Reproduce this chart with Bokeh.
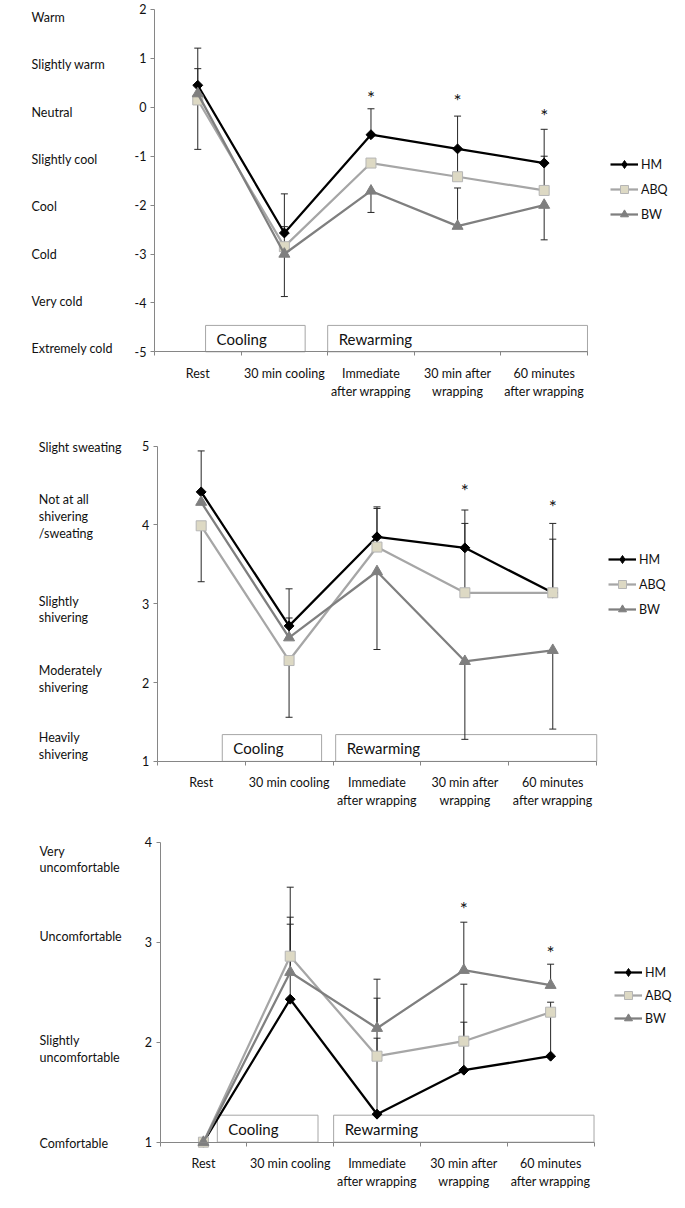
import numpy as np
from bokeh.plotting import figure
from bokeh.models import (ColumnDataSource, LinearAxis, FixedTicker, Range1d,
                          Legend, LegendItem)
from bokeh.layouts import column
from bokeh.embed import file_html
from bokeh.resources import INLINE
from bokeh.core.properties import value

# ---------------- data ----------------
categories = ["Rest", "30 min cooling", "Immediate\nafter wrapping",
              "30 min after\nwrapping", "60 minutes\nafter wrapping"]
series_names = ["HM", "ABQ", "BW"]
phases = ["Cooling", "Rewarming"]

# Panel 1: thermal sensation
p1_levels = [2, 1, 0, -1, -2, -3, -4, -5]
p1_words = ["Warm", "Slightly warm", "Neutral", "Slightly cool", "Cool",
            "Cold", "Very cold", "Extremely cold"]
p1_hm = [0.45, -2.57, -0.56, -0.85, -1.14]
p1_abq = [0.15, -2.85, -1.14, -1.42, -1.70]
p1_bw = [0.28, -3.00, -1.71, -2.43, -2.00]
p1_hm_err = [1.21, -1.77, -0.03, -0.18, -0.45]
p1_abq_err = [-0.86, -2.44, None, -0.87, -1.00]
p1_bw_err = [0.79, -3.87, -2.15, -1.65, -2.71]
p1_star = [None, None, 0.26, 0.21, -0.11]

# Panel 2: shivering / sweating
p2_levels = [5, 4, 3, 2, 1]
p2_words = ["Slight sweating", "Not at all\nshivering\n/sweating",
            "Slightly\nshivering", "Moderately\nshivering", "Heavily\nshivering"]
p2_hm = [4.42, 2.72, 3.85, 3.71, 3.14]
p2_abq = [3.99, 2.28, 3.72, 3.14, 3.14]
p2_bw = [4.29, 2.57, 3.41, 2.27, 2.41]
p2_hm_err = [4.94, 3.19, 4.23, 4.19, 4.02]
p2_abq_err = [3.28, 1.56, 4.21, 4.02, 3.82]
p2_bw_err = [None, 2.82, 2.42, 1.28, 1.41]
p2_star = [None, None, None, 4.48, 4.27]

# Panel 3: comfort
p3_levels = [4, 3, 2, 1]
p3_words = ["Very\nuncomfortable", "Uncomfortable",
            "Slightly\nuncomfortable", "Comfortable"]
p3_hm = [1.00, 2.43, 1.28, 1.72, 1.86]
p3_abq = [1.00, 2.86, 1.86, 2.01, 2.30]
p3_bw = [1.00, 2.70, 2.14, 2.72, 2.57]
p3_hm_err = [None, 3.18, 2.04, 2.20, 2.40]
p3_abq_err = [None, 3.55, 2.44, 2.58, None]
p3_bw_err = [None, 3.25, 2.63, 3.20, 2.78]
p3_star = [None, None, None, 3.37, 2.93]

# ---------------- styling ----------------
FONT = "Lato"
AXIS_C = "#868686"
ERR_C = "#262626"
STYLES = {
    "HM": dict(line="#000000", marker="square", angle=np.pi / 4, fill="#000000",
               mline="#000000", size=7, leg_marker="diamond", leg_size=11),
    "ABQ": dict(line="#A6A6A6", marker="square", angle=0, fill="#DDD9C4",
                mline="#B5B5B5", size=10, leg_marker="square", leg_size=10),
    "BW": dict(line="#7F7F7F", marker="triangle", angle=0, fill="#7F7F7F",
               mline="#7F7F7F", size=11, leg_marker="triangle", leg_size=11),
}


def make_panel(H, xr, yr, levels, words, word_x, word_dy, line_h,
               vals, errs, stars, boxes, box_top, leg_loc, leg_spacing):
    p = figure(width=685, height=H, x_range=Range1d(*xr), y_range=Range1d(*yr),
               x_axis_type=None, y_axis_type=None, toolbar_location=None,
               output_backend="svg", min_border=0, outline_line_color=None)
    ymin, ymax = min(levels), max(levels)
    xs = [i + 0.5 for i in range(len(categories))]

    # phase boxes
    bsrc = ColumnDataSource(dict(left=[b[0] for b in boxes], right=[b[1] for b in boxes],
                                 bottom=[ymin] * len(boxes), top=[box_top] * len(boxes),
                                 mid=[(ymin + box_top) / 2] * len(boxes), label=phases))
    p.quad(left="left", right="right", bottom="bottom", top="top", source=bsrc,
           fill_color="white", line_color="#A6A6A6", line_width=1)
    p.text(x="left", y="mid", text="label", source=bsrc, x_offset=11,
           text_baseline="middle", text_align="left", text_font=value(FONT),
           text_font_size="15px", text_color="#111111")

    # error bars
    for name, e in zip(series_names, errs):
        v = vals[series_names.index(name)]
        ex = [x for x, ee in zip(xs, e) if ee is not None]
        ey0 = [vv for vv, ee in zip(v, e) if ee is not None]
        ey1 = [ee for ee in e if ee is not None]
        p.segment(x0=ex, y0=ey0, x1=ex, y1=ey1, line_color=ERR_C, line_width=1)
        p.scatter(x=ex, y=ey1, marker="dash", size=7, line_color=ERR_C, line_width=1)

    # series
    items = []
    for name, v in zip(series_names, vals):
        st = STYLES[name]
        lr = p.line(xs, v, line_color=st["line"], line_width=2.25)
        p.scatter(xs, v, marker=st["marker"], size=st["size"], angle=st["angle"],
                  fill_color=st["fill"], line_color=st["mline"], line_width=1)
        # legend-only marker (kept outside the visible range)
        lm = p.scatter([xr[0] - 10], [yr[0] - 10], marker=st["leg_marker"],
                       size=st["leg_size"], fill_color=st["fill"],
                       line_color=st["mline"], line_width=1)
        items.append(LegendItem(label=name, renderers=[lr, lm]))

    # significance stars
    sx = [x for x, s in zip(xs, stars) if s is not None]
    sy = [s for s in stars if s is not None]
    p.text(x=sx, y=sy, text=["*"] * len(sx), text_align="center",
           text_baseline="middle", text_font=value(FONT), text_font_size="19px",
           y_offset=3, text_color="#111111")

    # verbal scale labels
    p.text(x=[word_x] * len(words), y=levels, text=words, y_offset=word_dy,
           text_align="left", text_baseline="middle", text_font=value(FONT),
           text_font_size="12.5px", text_line_height=line_h, text_color="#111111")

    # y axis
    yax = LinearAxis(fixed_location=0, bounds=(ymin, ymax),
                     ticker=FixedTicker(ticks=levels, minor_ticks=[]),
                     major_label_overrides={l: str(l) for l in levels},
                     axis_line_color=AXIS_C, major_tick_line_color=AXIS_C,
                     major_tick_out=4, major_tick_in=0, minor_tick_line_color=None,
                     major_label_standoff=4, major_label_text_font=FONT,
                     major_label_text_font_size="12.5px",
                     major_label_text_color="#111111")
    p.add_layout(yax, "left")

    # x axis
    xax = LinearAxis(fixed_location=ymin, bounds=(0, len(categories)),
                     ticker=FixedTicker(ticks=xs, minor_ticks=list(range(len(categories) + 1))),
                     major_label_overrides={x: c for x, c in zip(xs, categories)},
                     axis_line_color=AXIS_C, major_tick_line_color=None,
                     major_tick_out=0, major_tick_in=0,
                     minor_tick_line_color=AXIS_C, minor_tick_out=4, minor_tick_in=0,
                     major_label_standoff=10, major_label_text_font=FONT,
                     major_label_text_font_size="12.5px",
                     major_label_text_color="#111111")
    p.add_layout(xax, "below")

    leg = Legend(items=items, location=leg_loc, glyph_width=28, glyph_height=20,
                 label_height=20, label_standoff=3, spacing=leg_spacing, padding=0,
                 margin=0, border_line_color=None, background_fill_alpha=0,
                 label_text_font=FONT, label_text_font_size="12.5px",
                 label_text_color="#111111")
    p.add_layout(leg)
    return p


p1 = make_panel(410, (-1.778, 6.132), (-6.200, 2.184), p1_levels, p1_words, -1.42,
                [7.7, 6.1, 5.5, 3.3, 1.4, 0.5, -1.4, -3.3], 1.1,
                [p1_hm, p1_abq, p1_bw], [p1_hm_err, p1_abq_err, p1_bw_err], p1_star,
                [(0.59, 1.74), (2.0, 5.0)], -4.46, (610, 186), 5)

p2 = make_panel(410, (-1.783, 6.010), (0.250, 5.453), p2_levels, p2_words, -1.347,
                [1.6, -8.8, 5.7, -4.0, -15.0], 1.13,
                [p2_hm, p2_abq, p2_bw], [p2_hm_err, p2_abq_err, p2_bw_err], p2_star,
                [(0.74, 1.87), (2.03, 5.0)], 1.34, (608, 201), 5)

p3 = make_panel(388, (-1.838, 6.054), (0.337, 4.217), p3_levels, p3_words, -1.388,
                [17.3, -5.7, 6.6, 1.0], 1.12,
                [p3_hm, p3_abq, p3_bw], [p3_hm_err, p3_abq_err, p3_bw_err], p3_star,
                [(0.66, 1.82), (2.0, 5.0)], 1.27, (614, 180), 3)

layout = column(p1, p2, p3, spacing=0)
open("out.html", "w").write(file_html(layout, INLINE))
